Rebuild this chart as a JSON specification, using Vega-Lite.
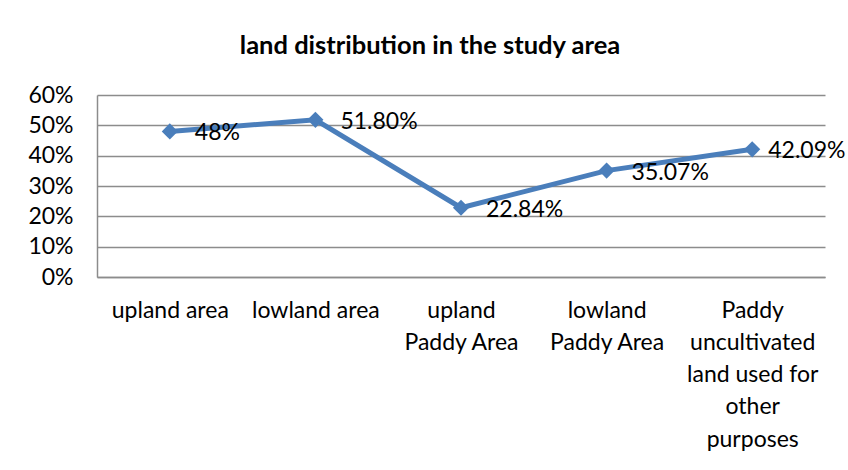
{
  "$schema": "https://vega.github.io/schema/vega-lite/v6.json",
  "autosize": "none",
  "width": 728,
  "height": 182,
  "padding": {"left": 97, "top": 95, "right": 23, "bottom": 193},
  "background": "white",
  "config": {
    "font": "Lato",
    "view": {"stroke": null},
    "axis": {"labelFont": "Lato", "labelColor": "#000000", "labelFontSize": 23, "gridColor": "#8c8c8c", "gridWidth": 1.3, "domainColor": "#8c8c8c", "domainWidth": 1.5, "ticks": false, "title": null}
  },
  "title": {
    "text": "land distribution in the study area",
    "font": "Lato",
    "fontSize": 25.5,
    "fontWeight": "bold",
    "color": "#000000",
    "anchor": "middle",
    "dx": -31,
    "offset": 5,
    "baseline": "alphabetic"
  },
  "data": {
    "values": [
      {"category": "upland area", "value": 0.48, "label": "48%"},
      {"category": "lowland area", "value": 0.518, "label": "51.80%"},
      {"category": "upland Paddy Area", "value": 0.2284, "label": "22.84%"},
      {"category": "lowland Paddy Area", "value": 0.3507, "label": "35.07%"},
      {"category": "Paddy uncultivated land used for other purposes", "value": 0.4209, "label": "42.09%"}
    ]
  },
  "encoding": {
    "x": {
      "field": "category",
      "type": "nominal",
      "sort": null,
      "axis": {
        "labelAngle": 0,
        "labelPadding": 22,
        "labelLineHeight": 32.3,
        "labelBaseline": "top",
        "labelLimit": 0,
        "labelExpr": "datum.value == 'upland Paddy Area' ? ['upland', 'Paddy Area'] : datum.value == 'lowland Paddy Area' ? ['lowland', 'Paddy Area'] : datum.value == 'Paddy uncultivated land used for other purposes' ? ['Paddy', 'uncultivated', 'land used for', 'other', 'purposes'] : datum.value"
      }
    },
    "y": {
      "field": "value",
      "type": "quantitative",
      "scale": {"domain": [0, 0.6]},
      "axis": {"values": [0, 0.1, 0.2, 0.3, 0.4, 0.5, 0.6], "format": ".0%", "labelPadding": 24, "grid": true}
    }
  },
  "layer": [
    {
      "mark": {"type": "line", "color": "#4A7EBB", "strokeWidth": 5}
    },
    {
      "mark": {"type": "point", "shape": "diamond", "filled": true, "opacity": 1, "color": "#4A7EBB", "size": 260}
    },
    {
      "transform": [{"filter": "datum.label != '42.09%'"}],
      "mark": {"type": "text", "align": "left", "baseline": "middle", "dx": 25, "dy": 2, "fontSize": 23, "font": "Lato", "color": "#000000"},
      "encoding": {"text": {"field": "label"}}
    },
    {
      "transform": [{"filter": "datum.label == '42.09%'"}],
      "mark": {"type": "text", "align": "left", "baseline": "middle", "dx": 16, "dy": 2, "fontSize": 23, "font": "Lato", "color": "#000000"},
      "encoding": {"text": {"field": "label"}}
    }
  ]
}
